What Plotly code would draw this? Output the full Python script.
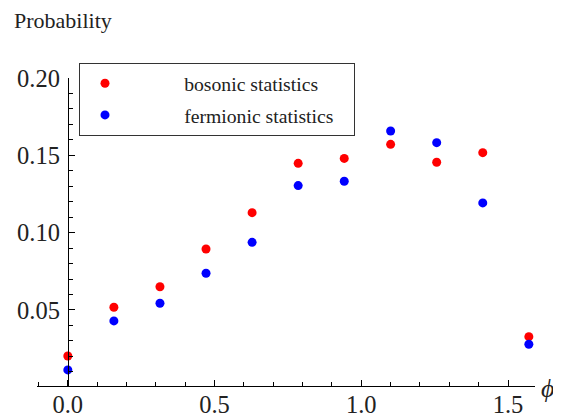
import plotly.graph_objects as go

phi = [0.0, 0.157, 0.314, 0.471, 0.628, 0.785, 0.942, 1.100, 1.257, 1.414, 1.571]
bosonic = [0.0202, 0.0517, 0.0650, 0.0894, 0.1129, 0.1448, 0.1480, 0.1571, 0.1455, 0.1517, 0.0327]
fermionic = [0.0112, 0.0429, 0.0543, 0.0737, 0.0937, 0.1304, 0.1332, 0.1657, 0.1582, 0.1192, 0.0278]
x_ticks = [0.0, 0.5, 1.0, 1.5]
y_ticks = [0.05, 0.10, 0.15, 0.20]

XMIN, XMAX = -0.105, 1.592
YMIN, YMAX = 0.0008, 0.2

serif = "Liberation Serif, Times New Roman, serif"
pad = "\u00a0" * 11
tail = "\u00a0" * 3

fig = go.Figure()
fig.add_trace(go.Scatter(x=phi, y=bosonic, mode="markers", name=pad + "bosonic statistics" + tail,
                         legendgroup="b",
                         marker=dict(color="#ff0000", size=9)))
fig.add_trace(go.Scatter(x=phi, y=fermionic, mode="markers", name=pad + "fermionic statistics" + tail,
                         legendgroup="f",
                         marker=dict(color="#0000ff", size=9)))

# page body has an 8px default margin, so the figure is 8px smaller and margins shifted
fig.update_layout(
    width=553, height=409,
    margin=dict(l=29, r=26, t=42, b=31, autoexpand=False),
    paper_bgcolor="white", plot_bgcolor="white",
    font=dict(family=serif, color="#222"),
    showlegend=True,
    legend=dict(x=(79 - 37) / 498, y=(386 - 63) / 336, xanchor="left", yanchor="top",
                bordercolor="#333", borderwidth=1, bgcolor="white",
                font=dict(family=serif, size=19.7, color="#222"),
                itemwidth=40, tracegroupgap=3),
    xaxis=dict(range=[XMIN, XMAX], showgrid=False, zeroline=False, automargin=False,
               showline=True, linecolor="black", linewidth=1,
               ticks="inside", ticklen=6, tickcolor="black",
               tickvals=x_ticks, tickformat=".1f", ticklabelstandoff=-3,
               tickfont=dict(family=serif, size=24.5, color="#222"),
               minor=dict(dtick=0.1, tick0=0, ticks="inside", ticklen=4, tickcolor="black"),
               anchor="y"),
    yaxis=dict(range=[YMIN, YMAX], showgrid=False, zeroline=False, automargin=False,
               domain=[0, 308 / 336],
               showline=True, linecolor="black", linewidth=1,
               ticks="inside", ticklen=6, tickcolor="black",
               tickvals=y_ticks, tickformat=".2f", ticklabelstandoff=3,
               tickfont=dict(family=serif, size=24.5, color="#222"),
               minor=dict(dtick=0.01, tick0=0, ticks="inside", ticklen=4, tickcolor="black"),
               anchor="free", position=(0 - XMIN) / (XMAX - XMIN)),
    annotations=[
        dict(text="Probability", xref="paper", yref="paper", x=-25 / 498, y=(386 - 20) / 336,
             xanchor="left", yanchor="middle", showarrow=False,
             font=dict(family=serif, size=22, color="#222")),
        dict(text="<i>ϕ</i>", xref="paper", yref="paper", x=(539 - 37) / 498, y=(386 - 388) / 336,
             xanchor="left", yanchor="middle", showarrow=False,
             font=dict(family=serif, size=26, color="#222")),
    ],
)

fig.write_html("out.html")
